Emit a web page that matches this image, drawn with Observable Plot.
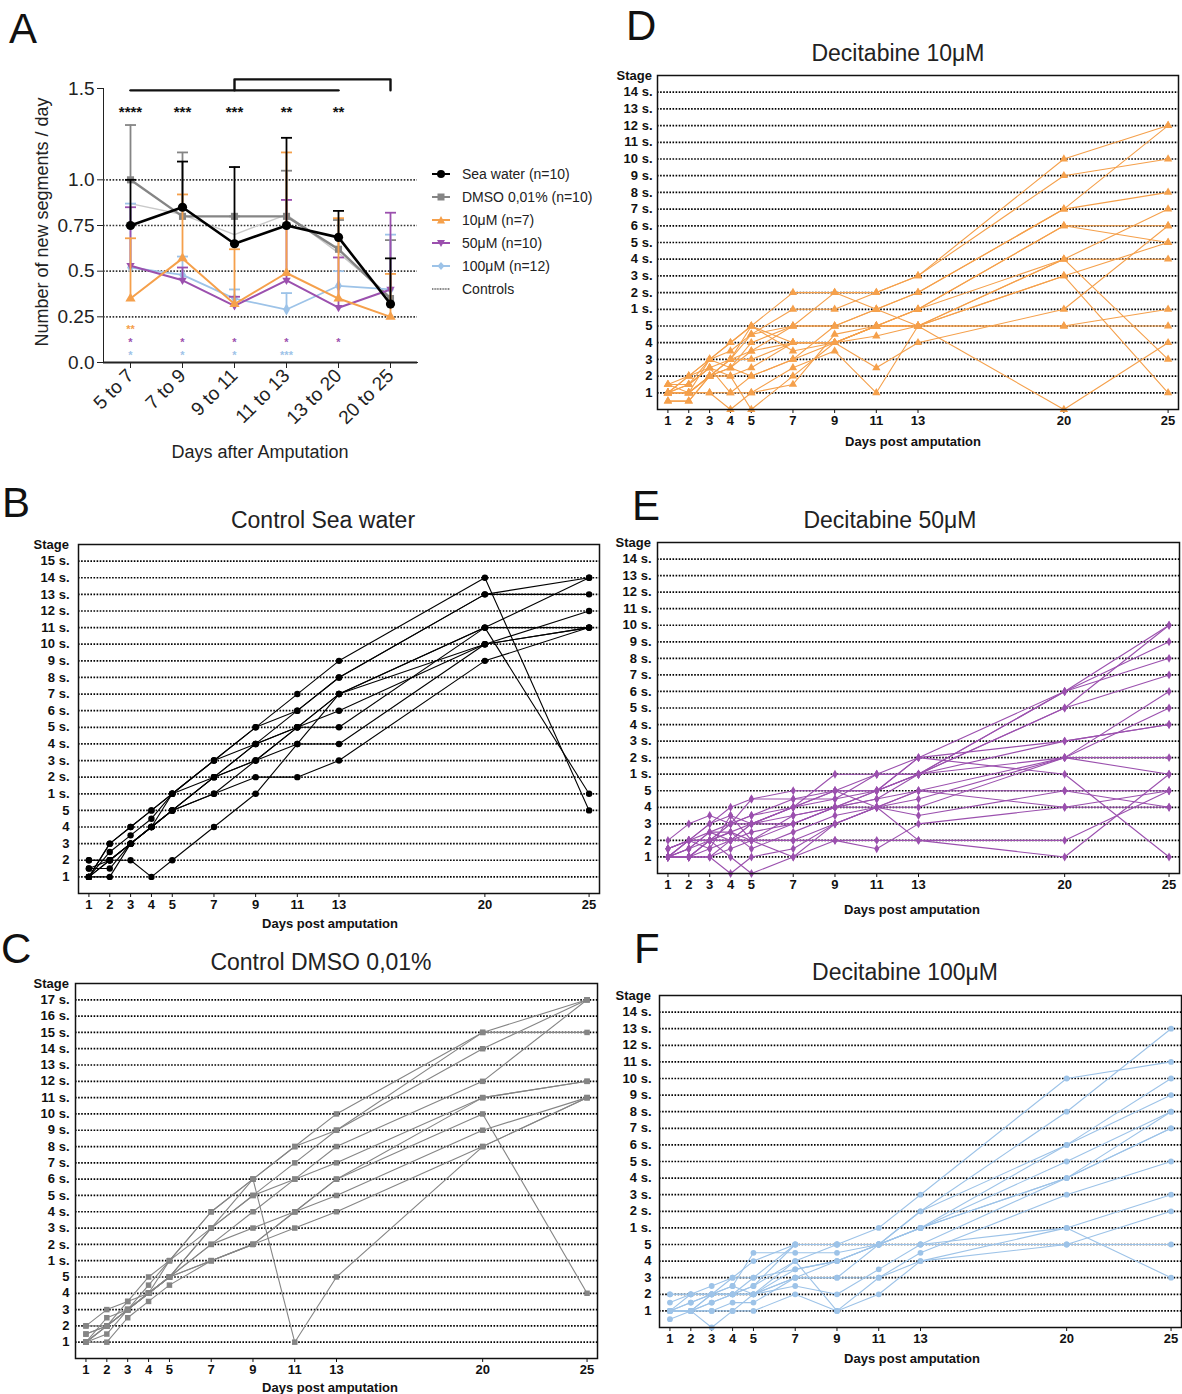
<!DOCTYPE html>
<html><head><meta charset="utf-8">
<script src="https://cdn.jsdelivr.net/npm/d3@7"></script>
<script src="https://cdn.jsdelivr.net/npm/@observablehq/plot@0.6"></script>
<style>
body{margin:0;background:#fff;font-family:Arial,"Liberation Sans",Helvetica,sans-serif;}
#fig{position:relative;width:1182px;height:1394px;overflow:hidden;background:#fff;}
.abs{position:absolute;white-space:nowrap;line-height:1;}
.letter{font-size:42px;color:#111;}
.title{font-size:23px;color:#222;transform:translate(-50%,-50%);}
.xlab{font-size:13px;font-weight:bold;color:#111;transform:translate(-50%,-50%);}
.stage{font-size:13px;font-weight:bold;color:#111;text-align:right;width:80px;transform:translateY(-50%);}
.atitle{font-size:18px;color:#222;transform:translate(-50%,-50%);}
.leg{font-size:14px;color:#222;}
.leg div{position:absolute;left:0;height:16px;display:flex;align-items:center;transform:translateY(-50%);}
.leg svg{margin-right:11px;}
</style></head>
<body><div id="fig"></div>
<script>
// ---------- Panel A data ----------
const intervals = ["5 to 7","7 to 9","9 to 11","11 to 13","13 to 20","20 to 25"];
const seaMean   = [0.75, 0.85, 0.65, 0.75, 0.685, 0.32];
const seaUpper  = [1.0, 1.1, 1.07, 1.23, 0.83, 0.57];
const dmsoMean  = [1.0, 0.8, 0.8, 0.8, 0.62, 0.35];
const dmsoUpper = [1.3, 1.15, 0.8, 1.05, 0.78, 0.67];
const pooledMean = [0.87, 0.81, 0.70, 0.81, 0.60, 0.36];
const dec10Mean  = [0.35, 0.57, 0.32, 0.49, 0.35, 0.25];
const dec10Upper = [0.68, 0.92, 0.62, 1.15, 0.79, 0.485];
const dec50Mean  = [0.53, 0.45, 0.31, 0.45, 0.30, 0.40];
const dec50Upper = [0.85, 0.52, 0.36, 0.89, 0.575, 0.82];
const dec100Mean  = [0.52, 0.48, 0.35, 0.29, 0.42, 0.40];
const dec100Upper = [0.87, 0.58, 0.40, 0.38, 0.50, 0.70];
const yTicksA = [0, 0.25, 0.5, 0.75, 1.0, 1.5];
const yTickLabelsA = ["0.0","0.25","0.5","0.75","1.0","1.5"];
const blackStars = ["****","***","***","**","**"];
const blackStarLevel = 1.395;
const orangeStars = ["**"], orangeStarLevel = 0.200;
const purpleStars = ["*","*","*","*","*"], purpleStarLevel = 0.131;
const blueStars = ["*","*","*","***"], blueStarLevel = 0.062;
const bracketLow = 1.49, bracketHigh = 1.55;

// ---------- Panels B-F data (stage index per day; 1-5 = stages, 6 = "1 s.", 7 = "2 s." ...) ----------
const days = [1,2,3,4,5,7,9,11,13,20,25];
const seaWater = [
  [2,2,2,1,2,4,6,9,12,15,16],
  [1,1,3,4,5,6,7,7,8,14,16],
  [1,3,4,5,6,8,10,12,14,19,5],
  [1,2,3,4,6,8,9,11,13,18,19],
  [1.5,2,3,4,5,7,9,10,12,16,19],
  [1,2.5,3.5,4.5,6,7,8,10,10,16,16],
  [1.5,1.5,3,4,5,7,8,9,9,15,17],
  [1,2,3,4,5,6,8,10,11,15,16],
  [1,3,4,5,6,8,10,11,13,18,18],
  [2,2,3,4,5,7,9,10,12,16,6]
];
const dmso = [
  [1,2,3,4,6,9,11,1,5,13,16],
  [2,3,3.5,5,6,9,11,13,15,20,22],
  [1,2.5,3,4.5,6,8,11,13,14,20,20],
  [1.5,2,3,4,5,8,10,12,14,19,22],
  [1,2,3.5,4,5,8,10,11,13,17,22],
  [1,1.5,3,4,5,7,9,11,12,16,17],
  [2,2,3,4,5,7,8,9,11,16,17],
  [1,1,2.5,3.5,4.5,6,7,9,11,15,4],
  [1,2,3,4,5,6,7,8,9,13,16],
  [1.5,2,3,4,5,6,7,9,10,14,16]
];
const dec10 = [
  [1.5,1.5,2.5,3,4.5,5,7,7,8,15,17],
  [1,2,3,3.5,4.5,6,6,7,8,14,15],
  [1,1.5,3,4,5,7,7,6,7,12,17],
  [1,1,2,2.5,4,5,5,6,7,12,13],
  [0.5,0.5,2,3,3,4,4,5,6,11,11],
  [1,1,1,1,2,3,5,5,6,11,10],
  [1,1.5,2.5,2,2.5,4,4,5,5,9,12],
  [1.5,2,3,2.5,3.5,4,4,4.4,5,9,9],
  [1,1,2,2.5,2,3,4,2.5,4,6,11],
  [1,1,1,0,1,2.5,3.5,1,5,8,10],
  [0.5,0.5,2,2,0,2,4,5,5,5,6],
  [1,1,3,4,5,4,4,5,6,9,3],
  [1.5,1,2,3,5,3.5,4,5,5,0,4],
  [1,2,2.5,1,1,1.5,4.5,5,5,8,1],
  [1,1,2,3,3.5,5,5,6,5,5,5]
];
const dec50 = [
  [1,2,2,3,4.5,5,5,5,6,11,15],
  [1.5,2,3,4,4.5,4.5,4.5,5,7,11,14],
  [1,1,2,2,3,4,6,6,6,11,13],
  [2,3,3.5,3,3,4,5,5,6,10,15],
  [1,1.5,2.5,2.5,2,3,4,5,6,10,12],
  [1,1,1.5,2,2,3.5,4,5,7,8,9],
  [1.5,2,2,2,2.5,3,4,4.5,6,8,9],
  [1,1,1,1.5,2,2,3,4,5,7,11],
  [1,1.5,2.5,2,3,3.5,4,4,4.5,7,10],
  [1,2,2,3,3.5,4,5,6,6,7,7],
  [1,1,2,2.5,1.5,2.5,3.5,4,4,7,6],
  [1,1,1,0,1,1.5,3,4,3.5,5,5],
  [1.5,2,3,3.5,2,1,2,1.5,3,4,4],
  [1,1,2,1,0,1,3,4,2,2,5],
  [1,1,1,2,2,2,2,2,2,1,6],
  [1.5,2,1.5,3.5,3,4,4.5,6,7,6,1],
  [1,1.5,2,2.5,3,3,4,4.5,5,4,5],
  [1,2,2.5,3,3.5,4.5,5,4,5,5,4]
];
const dec100 = [
  [1,2,2.5,3,4,5,5,6,8,15,16],
  [1.5,2,2,2.5,4.5,4.5,4.5,5,7,13,18],
  [1,1,2,2,3,5,5,5,7,11,15],
  [2,2,2,2,2.5,4,5,5,6,11,14],
  [1,1.5,2,2.5,2,3.5,4,5,6,10,13],
  [1,1,1.5,2,2,3,4,5,6,9,13],
  [1,1,1,1.5,1.5,3,3,5,6,9,12],
  [0.5,1,2,2,2,2.5,2,3.5,5,9,12],
  [1,1,0,1,1,2,1,3,4.5,8,10],
  [1,1,1,1,2,4,1,2,4,5,5],
  [1,1.5,2,3,3,3.5,4,5,5,5,7],
  [1,1,1.5,2,2.5,5,5,5,5,6,8],
  [2,2,2,2,2,3,3,3,4,6,3]
];

const COLORS = {sea:"#000000", dmso:"#858585", pooled:"#c9c9c9", d10:"#F5A04B", d50:"#9B50AE", d100:"#9DC3E8"};
const FONT = "Arial, 'Liberation Sans', Helvetica, sans-serif";
const fig = document.getElementById("fig");

function addText(cls, txt, left, top, extra){
  const d = document.createElement("div");
  d.className = "abs " + cls; d.textContent = txt;
  d.style.left = left + "px"; d.style.top = top + "px";
  if (extra) Object.assign(d.style, extra);
  fig.appendChild(d); return d;
}

const triDown = {draw(ctx, size){ const s = Math.sqrt(size) * 0.62; ctx.moveTo(-s, -s*0.62); ctx.lineTo(s, -s*0.62); ctx.lineTo(0, s*1.1); ctx.closePath(); }};
const capSym = {draw(ctx, size){ ctx.moveTo(-5.5, 0); ctx.lineTo(5.5, 0); }};

// ---------- Panel A ----------
(function(){
  const series = [
    {key:"pooled", mean:pooledMean, upper:null, color:COLORS.pooled, symbol:"circle", r:0, w:1.4},
    {key:"dmso", mean:dmsoMean, upper:dmsoUpper, color:COLORS.dmso, symbol:"square", r:4, w:2.4},
    {key:"d100", mean:dec100Mean, upper:dec100Upper, color:COLORS.d100, symbol:"diamond", r:3.6, w:1.8},
    {key:"d50", mean:dec50Mean, upper:dec50Upper, color:COLORS.d50, symbol:triDown, r:3.8, w:2},
    {key:"d10", mean:dec10Mean, upper:dec10Upper, color:COLORS.d10, symbol:"triangle", r:3.8, w:2},
    {key:"sea", mean:seaMean, upper:seaUpper, color:COLORS.sea, symbol:"circle", r:4.6, w:2.6}
  ];
  const marks = [
    Plot.ruleY([0.25,0.5,0.75,1.0], {stroke:"#333", strokeWidth:1.6, strokeDasharray:"1.6,1.6"})
  ];
  for (const s of series) {
    const rows = intervals.map((c,i)=>({cat:c, mean:s.mean[i], upper: s.upper ? s.upper[i] : null}));
    if (s.upper) {
      marks.push(Plot.ruleX(rows, {x:"cat", y1:"mean", y2:"upper", stroke:s.color, strokeWidth:1.8}));
      marks.push(Plot.dot(rows, {x:"cat", y:"upper", symbol:capSym, r:3, stroke:s.color, strokeWidth:1.8, fill:"none"}));
    }
    marks.push(Plot.line(rows, {x:"cat", y:"mean", stroke:s.color, strokeWidth:s.w}));
    if (s.r > 0) marks.push(Plot.dot(rows, {x:"cat", y:"mean", symbol:s.symbol, r:s.r, fill:s.color, stroke:"none"}));
  }
  const starRows = (arr, lvl) => arr.map((t,i)=>({cat:intervals[i], y:lvl, t}));
  marks.push(Plot.text(starRows(blackStars, blackStarLevel), {x:"cat", y:"y", text:"t", fill:"#111", fontSize:15, fontWeight:"bold", dy:5}));
  marks.push(Plot.text(starRows(orangeStars, orangeStarLevel), {x:"cat", y:"y", text:"t", fill:COLORS.d10, fontSize:11, fontWeight:"bold", dy:4}));
  marks.push(Plot.text(starRows(purpleStars, purpleStarLevel), {x:"cat", y:"y", text:"t", fill:COLORS.d50, fontSize:11, fontWeight:"bold", dy:4}));
  marks.push(Plot.text(starRows(blueStars, blueStarLevel), {x:"cat", y:"y", text:"t", fill:COLORS.d100, fontSize:11, fontWeight:"bold", dy:4}));
  marks.push(Plot.line([{x:intervals[0], y:bracketLow},{x:intervals[4], y:bracketLow}], {x:"x", y:"y", stroke:"#111", strokeWidth:2.4}));
  marks.push(Plot.line([{x:intervals[2], y:bracketLow},{x:intervals[2], y:bracketHigh},{x:intervals[5], y:bracketHigh},{x:intervals[5], y:bracketLow}], {x:"x", y:"y", stroke:"#111", strokeWidth:2.4}));
  marks.push(Plot.ruleY([0], {stroke:"#222", strokeWidth:2}));
  const left0 = 0, top0 = 60, W = 425, H = 410;
  const svg = Plot.plot({
    width: W, height: H,
    marginLeft: 103 - left0, marginRight: left0 + W - 417, marginTop: 88 - top0, marginBottom: top0 + H - 362,
    style: {fontFamily: FONT, fontSize: "19px", color:"#222", background:"transparent", overflow:"visible"},
    x: {type:"point", domain:intervals, padding:0.5, tickRotate:-45, tickSize:6, tickPadding:4, label:null, line:true},
    y: {domain:[0,1.5], ticks:yTicksA, tickFormat:(d)=>yTickLabelsA[yTicksA.indexOf(d)], tickSize:6, tickPadding:3, label:null, line:true},
    marks
  });
  svg.style.position = "absolute"; svg.style.left = left0 + "px"; svg.style.top = top0 + "px";
  fig.appendChild(svg);
  addText("letter", "A", 9, 8);
  addText("atitle", "Number of new segments / day", 42, 222, {transform:"translate(-50%,-50%) rotate(-90deg)"});
  addText("atitle", "Days after Amputation", 260, 452);

  // legend
  const leg = document.createElement("div");
  leg.className = "abs leg"; leg.style.left = "431px"; leg.style.top = "0px";
  const entries = [
    ["Sea water (n=10)", COLORS.sea, `<circle cx="10" cy="6" r="4" fill="${COLORS.sea}"/>`, 174],
    ["DMSO 0,01% (n=10)", COLORS.dmso, `<rect x="6.5" y="2.5" width="7" height="7" fill="${COLORS.dmso}"/>`, 197],
    ["10μM (n=7)", COLORS.d10, `<path d="M10,2 L14,9.5 L6,9.5Z" fill="${COLORS.d10}"/>`, 220],
    ["50μM (n=10)", COLORS.d50, `<path d="M6,3 L14,3 L10,10Z" fill="${COLORS.d50}"/>`, 243],
    ["100μM (n=12)", COLORS.d100, `<path d="M10,2 L13.5,6 L10,10 L6.5,6Z" fill="${COLORS.d100}"/>`, 266],
    ["Controls", null, "", 289]
  ];
  for (const [label, col, sym, y] of entries) {
    const row = document.createElement("div");
    row.style.top = y + "px";
    const line = col ? `<line x1="1" x2="19" y1="6" y2="6" stroke="${col}" stroke-width="2"/>` :
      `<line x1="1" x2="19" y1="6" y2="6" stroke="#111" stroke-width="1.2" stroke-dasharray="1,0.6"/>`;
    row.innerHTML = `<svg width="20" height="12">${line}${sym}</svg><span>${label}</span>`;
    leg.appendChild(row);
  }
  fig.appendChild(leg);
})();

// ---------- Panels B-F ----------
function stageLabel(v){ return v <= 5 ? String(v) : (v - 5) + " s."; }
function tidy(worms){ return worms.flatMap((w,i)=> w.map((s,j)=>({worm:i, day:days[j], stage:s}))); }

function spaghetti(cfg){
  const {worms, color, symbol, r, maxStage, frame, box, tickPad} = cfg;
  const [left0, top0, W, H] = box;
  const data = tidy(worms);
  const stages = d3.range(1, maxStage + 1);
  const svg = Plot.plot({
    width: W, height: H,
    marginLeft: frame.l - left0, marginRight: left0 + W - frame.r,
    marginTop: frame.t - top0, marginBottom: top0 + H - frame.b,
    style: {fontFamily: FONT, fontSize: "13px", fontWeight: "bold", color: "#111", background: "transparent", overflow:"visible"},
    x: {domain: [0.5, 25.5], ticks: days, tickFormat: (d)=>String(d), label: null, tickSize: 4, tickPadding: 2},
    y: {domain: [0, maxStage + 1], ticks: stages, tickFormat: stageLabel, tickSize: 0, tickPadding: tickPad, label: null},
    marks: [
      Plot.ruleY(stages, {stroke: "#000", strokeWidth: 1.7, strokeDasharray: "1.6,1.5"}),
      Plot.line(data, {x: "day", y: "stage", z: "worm", stroke: color, strokeWidth: 1.1}),
      Plot.dot(data, {x: "day", y: "stage", symbol, r, fill: color, stroke: "none"}),
      Plot.frame({stroke: "#111", strokeWidth: 1.5})
    ]
  });
  svg.style.position = "absolute"; svg.style.left = left0 + "px"; svg.style.top = top0 + "px";
  fig.appendChild(svg);
  addText("stage", "Stage", frame.l - tickPad - 80, frame.t);
  addText("letter", cfg.letter, cfg.letterPos[0], cfg.letterPos[1]);
  addText("title", cfg.title, cfg.titlePos[0], cfg.titlePos[1]);
  addText("xlab", "Days post amputation", cfg.xlabPos[0], cfg.xlabPos[1]);
}

spaghetti({worms: seaWater, color: COLORS.sea, symbol: "circle", r: 3.2, maxStage: 20,
  frame: {l:78, r:599, t:544, b:893}, box: [0, 530, 600, 385], tickPad: 9,
  letter: "B", letterPos: [2, 482], title: "Control Sea water", titlePos: [323, 520], xlabPos: [330, 923]});
spaghetti({worms: dmso, color: COLORS.dmso, symbol: "square", r: 3.1, maxStage: 22,
  frame: {l:75, r:597, t:983, b:1358}, box: [0, 970, 600, 410], tickPad: 6,
  letter: "C", letterPos: [1, 928], title: "Control DMSO 0,01%", titlePos: [321, 962], xlabPos: [330, 1387]});
spaghetti({worms: dec10, color: COLORS.d10, symbol: "triangle", r: 3.1, maxStage: 19,
  frame: {l:657, r:1178, t:75, b:409}, box: [600, 60, 582, 372], tickPad: 5,
  letter: "D", letterPos: [626, 5], title: "Decitabine 10μM", titlePos: [898, 53], xlabPos: [913, 441]});
spaghetti({worms: dec50, color: COLORS.d50, symbol: "diamond", r: 2.7, maxStage: 19,
  frame: {l:657, r:1179, t:542, b:873}, box: [600, 530, 582, 366], tickPad: 6,
  letter: "E", letterPos: [632, 485], title: "Decitabine 50μM", titlePos: [890, 520], xlabPos: [912, 909]});
spaghetti({worms: dec100, color: COLORS.d100, symbol: "circle", r: 2.9, maxStage: 19,
  frame: {l:659, r:1181, t:995, b:1327}, box: [600, 980, 582, 370], tickPad: 8,
  letter: "F", letterPos: [634, 928], title: "Decitabine 100μM", titlePos: [905, 972], xlabPos: [912, 1358]});
</script>
</body></html>
